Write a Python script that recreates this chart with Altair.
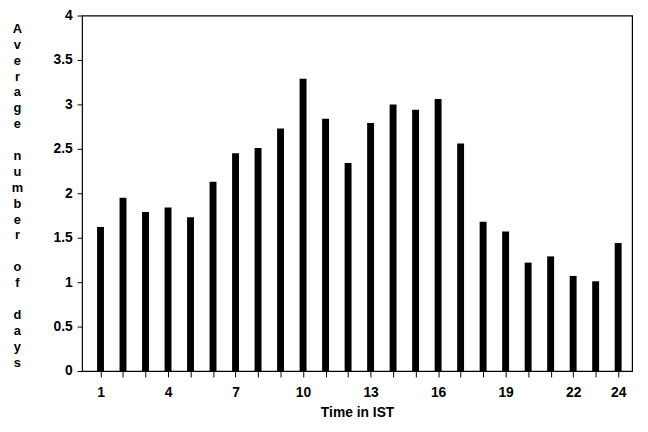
import altair as alt
import pandas as pd

hours = list(range(1, 25))
values = [1.62, 1.95, 1.79, 1.84, 1.73, 2.13, 2.45, 2.51, 2.73, 3.29, 2.84, 2.34,
          2.79, 3.00, 2.94, 3.06, 2.56, 1.68, 1.57, 1.22, 1.29, 1.07, 1.01, 1.44]
x_labels = [1, 4, 7, 10, 13, 16, 19, 22, 24]
y_ticks = [0, 0.5, 1, 1.5, 2, 2.5, 3, 3.5, 4]
y_title = "Average number of days"

df = pd.DataFrame({"hour": hours, "value": values})

label_list = ",".join(str(v) for v in x_labels)
title_lines = [c if c != " " else "\u2800" for c in y_title]

font = "Liberation Sans"

chart = alt.Chart(df).mark_bar(size=7, color="black").encode(
    x=alt.X(
        "hour:Q",
        scale=alt.Scale(domain=[0.4, 24.4], nice=False, zero=False),
        axis=alt.Axis(
            values=hours,
            labelExpr=f"indexof([{label_list}], datum.value) >= 0 ? datum.label : ''",
            title="Time in IST",
            domain=False,
            grid=False,
            ticks=True,
            tickSize=6,
            tickColor="black",
            labelPadding=9,
            labelFont=font,
            labelFontSize=14,
            labelFontWeight="bold",
            labelColor="black",
            titleFont=font,
            titleFontSize=14,
            titleFontWeight="bold",
            titleColor="black",
            titlePadding=6,
        ),
    ),
    y=alt.Y(
        "value:Q",
        scale=alt.Scale(domain=[0, 4], nice=False),
        axis=alt.Axis(
            values=y_ticks,
            format="~g",
            title=title_lines,
            titleAngle=0,
            titleAlign="center",
            titleBaseline="alphabetic",
            titleX=-66,
            titleY=17,
            titleLineHeight=16.1,
            titleFont=font,
            titleFontSize=13,
            titleFontWeight="bold",
            titleColor="black",
            domain=False,
            grid=False,
            tickSize=5,
            tickColor="black",
            labelPadding=5,
            labelFont=font,
            labelFontSize=14,
            labelFontWeight="bold",
            labelColor="black",
        ),
    ),
).properties(
    width=557,
    height=360,
    background="white",
    autosize=alt.AutoSizeParams(type="none"),
    padding={"left": 75, "top": 5, "right": 8, "bottom": 50},
).configure_view(
    stroke="black",
    strokeWidth=1.2,
)

chart.save("out.html", embed_options={"renderer": "svg", "actions": False})
